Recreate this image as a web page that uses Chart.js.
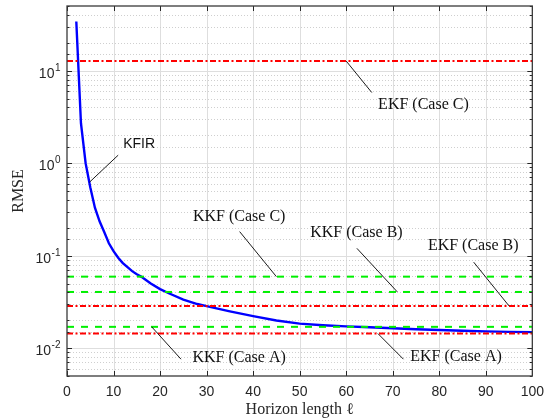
<!DOCTYPE html>
<html>
<head>
<meta charset="utf-8">
<script src="https://cdn.jsdelivr.net/npm/chart.js@4.4.1/dist/chart.umd.min.js"></script>
<style>
  html, body { margin: 0; padding: 0; background: #fff; }
  canvas { display: block; }
</style>
</head>
<body>
<canvas id="rmseChart" width="552" height="420"></canvas>
<script>
// KFIR error against horizon length
const horizons = [2, 3, 4, 5, 6, 7, 8, 9, 10, 11, 12, 13, 14, 15, 16, 18, 20, 22, 25, 28, 30, 35, 40, 45, 50, 55, 60, 65, 70, 75, 80, 85, 90, 95, 100];
const kfirRmse = [34, 2.7, 1.0, 0.55, 0.33, 0.235, 0.18, 0.136, 0.112, 0.095, 0.083, 0.075, 0.068, 0.063, 0.059, 0.050, 0.0435, 0.039, 0.0335, 0.030, 0.0285, 0.025, 0.0222, 0.0199, 0.0184, 0.0177, 0.0172, 0.0168, 0.0164, 0.0160, 0.0157, 0.0154, 0.0152, 0.0150, 0.0149];

// filters that do not depend on the horizon
const filterLabels = ["KKF (Case A)", "KKF (Case B)", "KKF (Case C)", "EKF (Case A)", "EKF (Case B)", "EKF (Case C)"];
const filterRmse = [0.017, 0.0405, 0.0593, 0.0144, 0.0286, 12.7];

const xLimits = [0, 100];
const yLimits = [0.005, 50];
const yDecades = [-2, -1, 0, 1];

const serif = '16px "Liberation Serif", "Times New Roman", serif';
const sans = '14px "Liberation Sans", Arial, sans-serif';
const axisColor = "#262626";

// text centre and leader line (axis units); the leader ends on the filter's level
const callouts = [
  { series: 0, textAt: [37.0, 0.0078], from: [24.5, 0.0076], toX: 18.2 },
  { series: 1, textAt: [62.2, 0.175], from: [62.3, 0.120], toX: 71.0 },
  { series: 2, textAt: [37.0, 0.264], from: [37.1, 0.182], toX: 45.0 },
  { series: 3, textAt: [83.6, 0.0081], from: [72.3, 0.0076], toX: 66.8 },
  { series: 4, textAt: [87.3, 0.127], from: [87.4, 0.085], toX: 95.0 },
  { series: 5, textAt: [76.6, 4.32], from: [65.5, 5.8], toX: 60.0 }
];
const kfirCallout = { text: "KFIR", textAt: [15.5, 1.61], from: [11.0, 1.22], to: [4.8, 0.62] };

const levelSets = filterLabels.map((label, i) => {
  const ekf = label.startsWith("EKF");
  return {
    label,
    data: xLimits.map(x => ({ x, y: filterRmse[i] })),
    borderColor: ekf ? "#ff0000" : "#00f000",
    borderWidth: 2,
    borderDash: ekf ? [6, 2.5, 2, 2.5] : [7, 7]
  };
});

const kfirSet = {
  label: "KFIR",
  data: horizons.map((h, i) => ({ x: h, y: kfirRmse[i] })),
  borderColor: "#0000ff",
  borderWidth: 2.4
};

const crisp = v => Math.round(v) + 0.5;

const frame = {
  id: "frame",
  beforeDatasetsDraw(chart) {
    const { ctx, chartArea: a, scales: { x, y } } = chart;
    ctx.save();
    ctx.lineWidth = 1;
    // vertical grid
    ctx.strokeStyle = "#dedede";
    x.ticks.forEach(t => {
      if (t.value <= xLimits[0] || t.value >= xLimits[1]) return;
      const px = crisp(x.getPixelForValue(t.value));
      ctx.beginPath(); ctx.moveTo(px, a.top); ctx.lineTo(px, a.bottom); ctx.stroke();
    });
    // horizontal grid: decades solid, the rest dotted
    y.ticks.forEach(t => {
      const lg = Math.log10(t.value);
      const major = Math.abs(lg - Math.round(lg)) < 1e-9;
      const py = crisp(y.getPixelForValue(t.value));
      if (py <= a.top + 1 || py >= a.bottom - 1) return;
      ctx.strokeStyle = major ? "#dedede" : "#cfcfcf";
      ctx.setLineDash(major ? [] : [1, 2]);
      ctx.beginPath(); ctx.moveTo(a.left, py); ctx.lineTo(a.right, py); ctx.stroke();
    });
    ctx.restore();
  },
  afterDatasetsDraw(chart) {
    const { ctx, chartArea: a, scales: { x, y } } = chart;
    ctx.save();
    // inward tick marks on all four sides
    ctx.strokeStyle = axisColor;
    ctx.lineWidth = 1;
    x.ticks.forEach(t => {
      const px = crisp(x.getPixelForValue(t.value));
      ctx.beginPath();
      ctx.moveTo(px, a.bottom); ctx.lineTo(px, a.bottom - 5);
      ctx.moveTo(px, a.top); ctx.lineTo(px, a.top + 5);
      ctx.stroke();
    });
    y.ticks.forEach(t => {
      const lg = Math.log10(t.value);
      const len = Math.abs(lg - Math.round(lg)) < 1e-9 ? 5 : 2.5;
      const py = crisp(y.getPixelForValue(t.value));
      ctx.beginPath();
      ctx.moveTo(a.left, py); ctx.lineTo(a.left + len, py);
      ctx.moveTo(a.right, py); ctx.lineTo(a.right - len, py);
      ctx.stroke();
    });
    // box
    ctx.lineWidth = 1.3;
    ctx.strokeStyle = "#3a3a3a";
    ctx.strokeRect(a.left, a.top, a.right - a.left, a.bottom - a.top);

    // decade labels with raised exponent
    ctx.fillStyle = axisColor;
    ctx.textBaseline = "alphabetic";
    ctx.textAlign = "left";
    const labelRight = a.left - 7;
    yDecades.forEach(d => {
      const py = y.getPixelForValue(Math.pow(10, d));
      const exp = String(d);
      ctx.font = '10px "Liberation Sans", Arial, sans-serif';
      const ew = ctx.measureText(exp).width;
      ctx.font = sans;
      const bw = ctx.measureText("10").width;
      const left = labelRight - ew - bw;
      ctx.fillText("10", left, py + 7);
      ctx.font = '10px "Liberation Sans", Arial, sans-serif';
      ctx.fillText(exp, left + bw + 0.5, py);
    });

    // callouts
    ctx.strokeStyle = "#000";
    ctx.lineWidth = 0.9;
    ctx.fillStyle = "#111";
    ctx.textAlign = "center";
    ctx.textBaseline = "middle";
    const leader = (x0, y0, x1, y1) => {
      ctx.beginPath();
      ctx.moveTo(x.getPixelForValue(x0), y.getPixelForValue(y0));
      ctx.lineTo(x.getPixelForValue(x1), y.getPixelForValue(y1));
      ctx.stroke();
    };
    ctx.font = serif;
    callouts.forEach(c => {
      leader(c.from[0], c.from[1], c.toX, filterRmse[c.series]);
      ctx.fillText(filterLabels[c.series], x.getPixelForValue(c.textAt[0]), y.getPixelForValue(c.textAt[1]));
    });
    ctx.font = sans;
    leader(kfirCallout.from[0], kfirCallout.from[1], kfirCallout.to[0], kfirCallout.to[1]);
    ctx.fillText(kfirCallout.text, x.getPixelForValue(kfirCallout.textAt[0]), y.getPixelForValue(kfirCallout.textAt[1]));
    ctx.restore();
  }
};

new Chart(document.getElementById("rmseChart"), {
  type: "line",
  data: { datasets: [...levelSets, kfirSet] },
  plugins: [frame],
  options: {
    responsive: false,
    animation: false,
    devicePixelRatio: 1,
    layout: { padding: { top: 6, right: 16, bottom: 0, left: 0 } },
    elements: { point: { radius: 0 }, line: { tension: 0 } },
    plugins: { legend: { display: false }, tooltip: { enabled: false } },
    scales: {
      x: {
        type: "linear",
        min: xLimits[0],
        max: xLimits[1],
        afterFit: s => { s.height = 44; },
        grid: { display: false, drawTicks: false },
        border: { display: false },
        ticks: { stepSize: 10, autoSkip: false, maxRotation: 0, padding: 8, color: axisColor, font: { family: '"Liberation Sans", Arial, sans-serif', size: 14 } },
        title: { display: true, text: "Horizon length \u2113", color: axisColor, padding: { top: 0, bottom: 1 }, font: { family: '"Liberation Serif", "Times New Roman", serif', size: 16 } }
      },
      y: {
        type: "logarithmic",
        min: yLimits[0],
        max: yLimits[1],
        afterFit: s => { s.width = 67; },
        grid: { display: false, drawTicks: false },
        border: { display: false },
        ticks: { display: false },
        title: { display: true, text: "RMSE", color: axisColor, padding: { top: 9, bottom: 0 }, font: { family: '"Liberation Serif", "Times New Roman", serif', size: 16 } }
      }
    }
  }
});
</script>
</body>
</html>
